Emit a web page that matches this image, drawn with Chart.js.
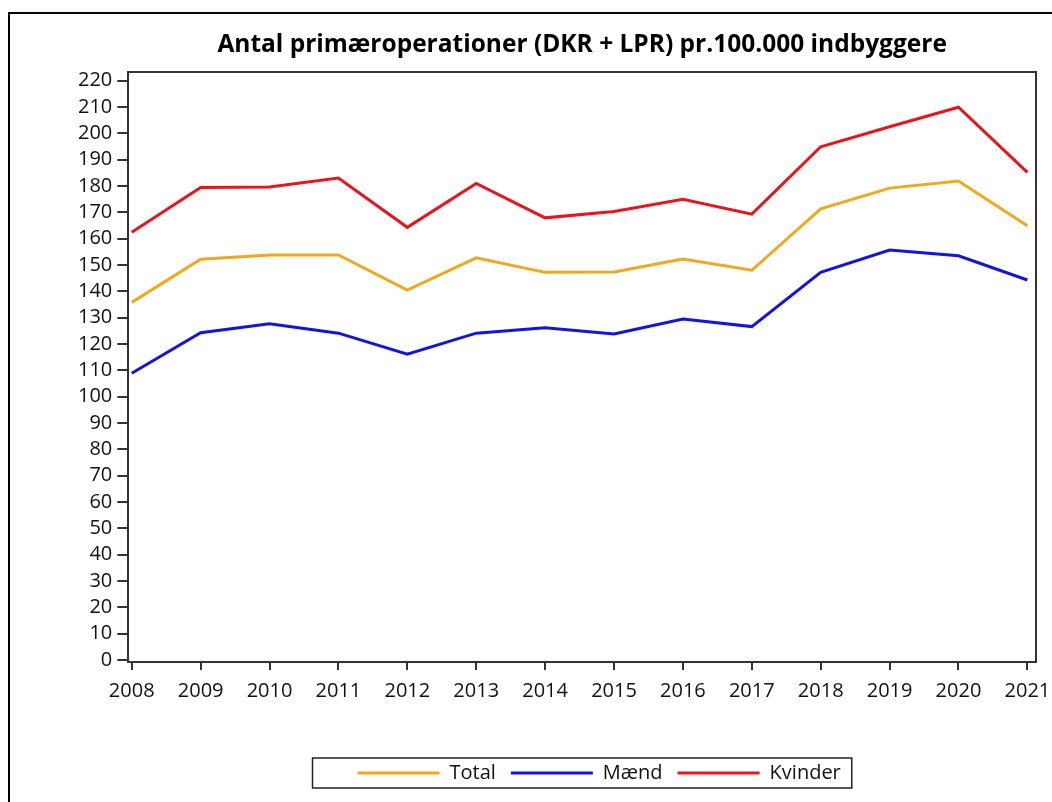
<!DOCTYPE html>
<html>
<head>
<meta charset="utf-8">
<script src="https://cdn.jsdelivr.net/npm/chart.js@4"></script>
<style>
  html, body { margin: 0; padding: 0; background: #fff; }
  #wrap { width: 1052px; height: 802px; position: relative; }
</style>
</head>
<body>
<div id="wrap"><canvas id="chart" width="1052" height="802"></canvas></div>
<script>
// Data
const years = [2008, 2009, 2010, 2011, 2012, 2013, 2014, 2015, 2016, 2017, 2018, 2019, 2020, 2021];
const total = [135.8, 152.2, 153.8, 153.8, 140.5, 152.7, 147.2, 147.3, 152.3, 148.0, 171.3, 179.2, 181.9, 164.9];
const maend = [108.9, 124.3, 127.7, 124.1, 116.1, 124.1, 126.2, 123.8, 129.5, 126.6, 147.2, 155.7, 153.5, 144.3];
const kvinder = [162.4, 179.4, 179.6, 183.0, 164.3, 181.0, 167.9, 170.3, 175.0, 169.3, 194.9, 202.5, 209.9, 185.2];
const yTicks = [0, 10, 20, 30, 40, 50, 60, 70, 80, 90, 100, 110, 120, 130, 140, 150, 160, 170, 180, 190, 200, 210, 220];

const FONT = "'Open Sans', 'Noto Sans', sans-serif";
const AXIS = '#333333';

const toPoints = arr => arr.map((v, i) => ({ x: years[i], y: v }));

// Frame around the plot, legend border and the outer picture border
const framePlugin = {
    id: 'frame',
    afterLayout(chart) {
        // legend sits a bit right of the plot centre in the original
        chart.legend.left += 17;
        chart.legend.right += 17;
    },
    afterDraw(chart) {
        const { ctx, chartArea: a } = chart;
        ctx.save();
        ctx.strokeStyle = AXIS;
        ctx.lineWidth = 2;
        ctx.beginPath();
        ctx.moveTo(a.left, a.top);
        ctx.lineTo(a.right, a.top);
        ctx.lineTo(a.right, a.bottom);
        ctx.stroke();

        // legend box
        const boxes = chart.legend.legendHitBoxes;
        if (boxes && boxes.length) {
            const first = boxes[0];
            const last = boxes[boxes.length - 1];
            const cy = first.top + first.height / 2;
            ctx.strokeStyle = '#222';
            ctx.lineWidth = 1.5;
            ctx.strokeRect(first.left - 45, cy - 15, last.left + last.width + 11 - (first.left - 45), 30);
        }

        // outer border
        ctx.strokeStyle = '#000';
        ctx.lineWidth = 2;
        ctx.beginPath();
        ctx.moveTo(9, 802);
        ctx.lineTo(9, 13);
        ctx.lineTo(1052, 13);
        ctx.stroke();
        ctx.restore();
    }
};

new Chart(document.getElementById('chart'), {
    type: 'line',
    data: {
        datasets: [
            { label: 'Total', data: toPoints(total), borderColor: '#f0a81e', backgroundColor: '#f0a81e' },
            { label: 'Mænd', data: toPoints(maend), borderColor: '#1414e0', backgroundColor: '#1414e0' },
            { label: 'Kvinder', data: toPoints(kvinder), borderColor: '#e8141e', backgroundColor: '#e8141e' }
        ]
    },
    options: {
        responsive: false,
        animation: false,
        layout: { padding: { left: 0, right: 16, top: 0, bottom: 9 } },
        elements: {
            line: { borderWidth: 3, tension: 0 },
            point: { radius: 0, hoverRadius: 0 }
        },
        plugins: {
            title: {
                display: true,
                fullSize: false,
                text: 'Antal primæroperationer (DKR + LPR) pr.100.000 indbyggere',
                color: '#000',
                font: { family: FONT, size: 24.5, weight: 'bold' },
                padding: { top: 30.3, bottom: 12.3 }
            },
            legend: {
                position: 'bottom',
                fullSize: false,
                labels: {
                    color: '#111',
                    font: { family: FONT, size: 20 },
                    boxWidth: 82,
                    boxHeight: 3,
                    padding: 15,
                    generateLabels(chart) {
                        return Chart.defaults.plugins.legend.labels.generateLabels(chart)
                            .map(l => ({ ...l, lineWidth: 0, fillStyle: l.strokeStyle }));
                    }
                }
            },
            tooltip: { enabled: false }
        },
        scales: {
            x: {
                type: 'linear',
                min: 2007.95,
                max: 2021.125,
                afterBuildTicks(scale) {
                    scale.ticks = years.map(v => ({ value: v }));
                },
                afterFit(scale) {
                    scale.height = 86;
                    scale.paddingLeft = 0;
                    scale.paddingRight = 0;
                },
                ticks: {
                    color: '#111',
                    font: { family: FONT, size: 20 },
                    padding: 9,
                    maxRotation: 0,
                    autoSkip: false,
                    callback: v => String(v)
                },
                grid: { drawOnChartArea: false, drawTicks: true, tickLength: 8, color: AXIS, lineWidth: 2 },
                border: { display: true, color: AXIS, width: 2 }
            },
            y: {
                type: 'linear',
                min: -0.8,
                max: 223.3,
                afterBuildTicks(scale) {
                    scale.ticks = yTicks.map(v => ({ value: v }));
                },
                afterFit(scale) {
                    scale.width = 128.3;
                },
                ticks: {
                    color: '#111',
                    font: { family: FONT, size: 20 },
                    padding: 5,
                    autoSkip: false,
                    callback: v => String(v)
                },
                grid: { drawOnChartArea: false, drawTicks: true, tickLength: 11, color: AXIS, lineWidth: 2 },
                border: { display: true, color: AXIS, width: 2 }
            }
        }
    },
    plugins: [framePlugin]
});
</script>
</body>
</html>
